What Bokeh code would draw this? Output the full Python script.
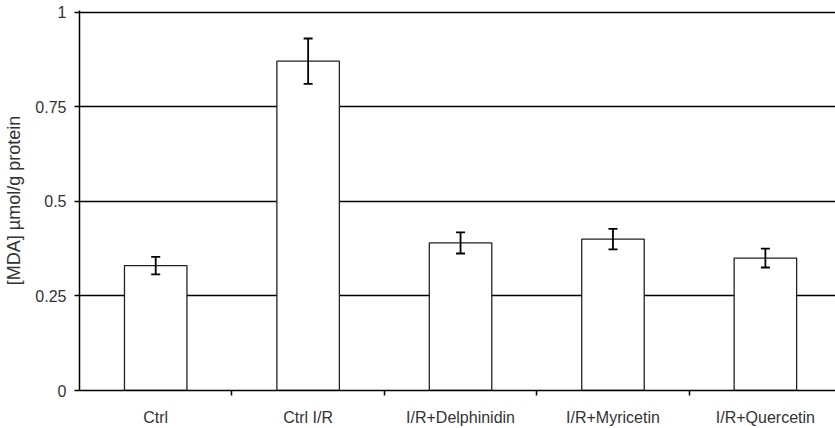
from bokeh.plotting import figure
from bokeh.models import ColumnDataSource, Whisker, FixedTicker, Range1d
from bokeh.embed import file_html
from bokeh.resources import INLINE

categories = ["Ctrl", "Ctrl I/R", "I/R+Delphinidin", "I/R+Myricetin", "I/R+Quercetin"]
mda_mean = [0.33, 0.87, 0.39, 0.40, 0.35]
mda_err = [0.023, 0.060, 0.028, 0.027, 0.025]
y_ticks = [0, 0.25, 0.5, 0.75, 1]

xs = list(range(len(categories)))
src = ColumnDataSource(dict(
    x=xs,
    top=mda_mean,
    upper=[m + e for m, e in zip(mda_mean, mda_err)],
    lower=[m - e for m, e in zip(mda_mean, mda_err)],
))

p = figure(width=835, height=428, output_backend="svg", toolbar_location=None,
           x_range=Range1d(-0.5, 4.46), y_range=Range1d(0, 1.004),
           min_border_left=79, min_border_right=0, min_border_top=10, min_border_bottom=36)
p.outline_line_color = None
p.background_fill_color = "white"

p.vbar(x="x", top="top", width=0.41, bottom=0, source=src,
       fill_color="white", line_color="#222222", line_width=1.3)

w = Whisker(base="x", upper="upper", lower="lower", source=src,
            line_color="black", line_width=1.8, level="annotation")
w.upper_head.size = 9
w.lower_head.size = 9
w.upper_head.line_width = 1.8
w.lower_head.line_width = 1.8
p.add_layout(w)

FONT = "Liberation Sans"

# y axis
p.yaxis.ticker = FixedTicker(ticks=y_ticks)
p.yaxis.major_label_overrides = {0: "0", 0.25: "0.25", 0.5: "0.5", 0.75: "0.75", 1: "1"}
p.yaxis.axis_label = "[MDA] \u00b5mol/g protein"
p.yaxis.axis_label_text_font = FONT
p.yaxis.axis_label_text_font_style = "normal"
p.yaxis.axis_label_text_font_size = "18px"
p.yaxis.axis_label_text_color = "#333333"
p.yaxis.axis_label_standoff = 8
p.yaxis.major_label_text_font = FONT
p.yaxis.major_label_text_font_size = "16px"
p.yaxis.major_label_text_color = "#333333"
p.yaxis.major_tick_out = 5
p.yaxis.major_tick_in = 0
p.yaxis.minor_tick_out = 0
p.yaxis.minor_tick_in = 0
p.yaxis.axis_line_color = "black"
p.yaxis.axis_line_width = 1.5
p.yaxis.major_tick_line_color = "black"
p.yaxis.major_tick_line_width = 1.5
p.yaxis.major_label_standoff = 8

# x axis: labels at centers, ticks between categories
p.xaxis.ticker = FixedTicker(ticks=xs, minor_ticks=[i + 0.5 for i in xs[:-1]])
p.xaxis.major_label_overrides = {float(i): c for i, c in zip(xs, categories)}
p.xaxis.major_label_text_font = FONT
p.xaxis.major_label_text_font_size = "16px"
p.xaxis.major_label_text_color = "#333333"
p.xaxis.major_tick_out = 0
p.xaxis.major_tick_in = 0
p.xaxis.minor_tick_out = 5
p.xaxis.minor_tick_in = 0
p.xaxis.minor_tick_line_color = "black"
p.xaxis.minor_tick_line_width = 1.5
p.xaxis.axis_line_color = "black"
p.xaxis.axis_line_width = 1.5
p.xaxis.major_label_standoff = 13

p.xgrid.grid_line_color = None
p.ygrid.ticker = FixedTicker(ticks=y_ticks)
p.ygrid.grid_line_color = "black"
p.ygrid.grid_line_width = 1.5

open("out.html", "w").write(file_html(p, INLINE))
